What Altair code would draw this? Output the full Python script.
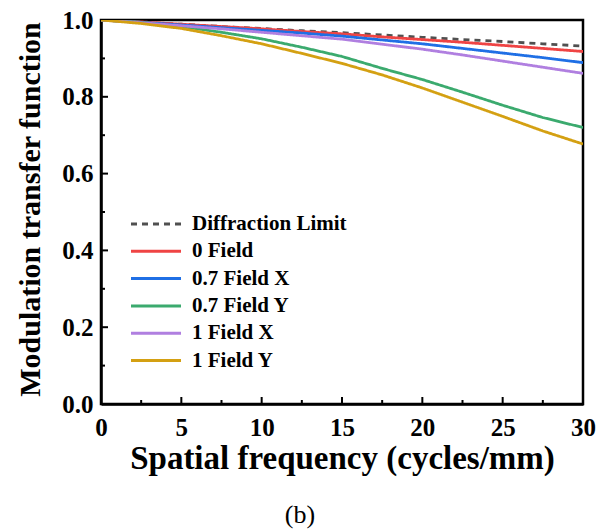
import altair as alt
import pandas as pd

freq = [0, 2.5, 5, 7.5, 10, 12.5, 15, 17.5, 20, 22.5, 25, 27.5, 30]
diffraction = [1.0, 0.994, 0.989, 0.983, 0.978, 0.972, 0.967, 0.961, 0.955, 0.949, 0.944, 0.938, 0.932]
field0 = [1.0, 0.995, 0.989, 0.983, 0.977, 0.970, 0.964, 0.956, 0.949, 0.942, 0.934, 0.926, 0.918]
field07x = [1.0, 0.994, 0.987, 0.980, 0.973, 0.966, 0.958, 0.948, 0.938, 0.926, 0.914, 0.902, 0.889]
field07y = [1.0, 0.994, 0.983, 0.968, 0.951, 0.929, 0.905, 0.874, 0.845, 0.812, 0.778, 0.746, 0.720]
field1x = [1.0, 0.993, 0.985, 0.977, 0.968, 0.959, 0.950, 0.937, 0.924, 0.909, 0.893, 0.877, 0.861]
field1y = [1.0, 0.991, 0.978, 0.959, 0.938, 0.913, 0.887, 0.857, 0.823, 0.786, 0.749, 0.711, 0.677]

series_names = ["Diffraction Limit", "0 Field", "0.7 Field X", "0.7 Field Y", "1 Field X", "1 Field Y"]
series_values = [diffraction, field0, field07x, field07y, field1x, field1y]
series_colors = ["#505050", "#EF4444", "#1F6FE5", "#3BAA6E", "#B07FE0", "#D4A012"]
series_dash = [[6, 5], [1, 0], [1, 0], [1, 0], [1, 0], [1, 0]]

x_major = [0, 5, 10, 15, 20, 25, 30]
x_minor = [2.5, 7.5, 12.5, 17.5, 22.5, 27.5]
y_major = [0.0, 0.2, 0.4, 0.6, 0.8, 1.0]
y_minor = [0.1, 0.3, 0.5, 0.7, 0.9]

rows = []
for name, vals in zip(series_names, series_values):
    for f, v in zip(freq, vals):
        rows.append({"freq": f, "mtf": v, "series": name})
df = pd.DataFrame(rows)

W, H = 482, 384
FONT = "Liberation Serif"

xscale = alt.Scale(domain=[0, 30], nice=False, zero=False)
yscale = alt.Scale(domain=[0, 1], nice=False, zero=False)

lines = alt.Chart(df).mark_line(strokeWidth=2.8, clip=True).encode(
    x=alt.X("freq:Q", scale=xscale,
            axis=alt.Axis(title="Spatial frequency (cycles/mm)", values=x_major, format="d",
                          ticks=False, tickSize=0, labelPadding=11, grid=False, labelFlush=False,
                          domainColor="black", domainWidth=2.5,
                          labelFont=FONT, labelFontSize=25, labelFontWeight="bold", labelColor="black",
                          titleFont=FONT, titleFontSize=33, titleFontWeight="bold", titleColor="black",
                          titleBaseline="alphabetic", titleY=64)),
    y=alt.Y("mtf:Q", scale=yscale,
            axis=alt.Axis(title="Modulation transfer function", values=y_major, format=".1f",
                          ticks=False, tickSize=0, labelPadding=8, grid=False, labelFlush=False,
                          domainColor="black", domainWidth=2.5,
                          labelFont=FONT, labelFontSize=25, labelFontWeight="bold", labelColor="black",
                          titleFont=FONT, titleFontSize=30, titleFontWeight="bold", titleColor="black",
                          titleBaseline="alphabetic", titleX=-62, titleY=189)),
    color=alt.Color("series:N", sort=series_names,
                    scale=alt.Scale(domain=series_names, range=series_colors),
                    legend=alt.Legend(title=None, orient="none", legendX=41, legendY=190,
                                      symbolType="M-2,0H2", symbolSize=625, symbolStrokeWidth=3,
                                      labelFont=FONT, labelFontSize=21, labelFontWeight="bold",
                                      labelColor="black", labelOffset=22, rowPadding=3.3)),
    strokeDash=alt.StrokeDash("series:N", sort=series_names,
                              scale=alt.Scale(domain=series_names, range=series_dash),
                              legend=None),
)

xmaj = pd.DataFrame({"v": x_major[1:-1]})
xmin = pd.DataFrame({"v": x_minor})
ymaj = pd.DataFrame({"v": y_major[1:-1]})
ymin = pd.DataFrame({"v": y_minor})

xt_major = alt.Chart(xmaj).mark_rule(color="black", strokeWidth=2).encode(
    x=alt.X("v:Q", scale=xscale), y=alt.value(H), y2=alt.value(H - 7))
xt_minor = alt.Chart(xmin).mark_rule(color="black", strokeWidth=2).encode(
    x=alt.X("v:Q", scale=xscale), y=alt.value(H), y2=alt.value(H - 4))
yt_major = alt.Chart(ymaj).mark_rule(color="black", strokeWidth=2).encode(
    y=alt.Y("v:Q", scale=yscale), x=alt.value(0), x2=alt.value(7))
yt_minor = alt.Chart(ymin).mark_rule(color="black", strokeWidth=2).encode(
    y=alt.Y("v:Q", scale=yscale), x=alt.value(0), x2=alt.value(4))

chart = alt.layer(lines, xt_major, xt_minor, yt_major, yt_minor).properties(
    width=W, height=H,
    background="white",
    title=alt.TitleParams("(b)", orient="bottom", font=FONT, fontSize=26, fontWeight="normal",
                          color="black", anchor="middle", offset=27, dx=-42),
    autosize=alt.AutoSizeParams(type="none"),
    padding={"left": 93, "top": 12, "right": 17, "bottom": 125},
).configure_view(stroke="black", strokeWidth=2.5)

chart.save("out.html", embed_options={"renderer": "svg", "actions": False})
